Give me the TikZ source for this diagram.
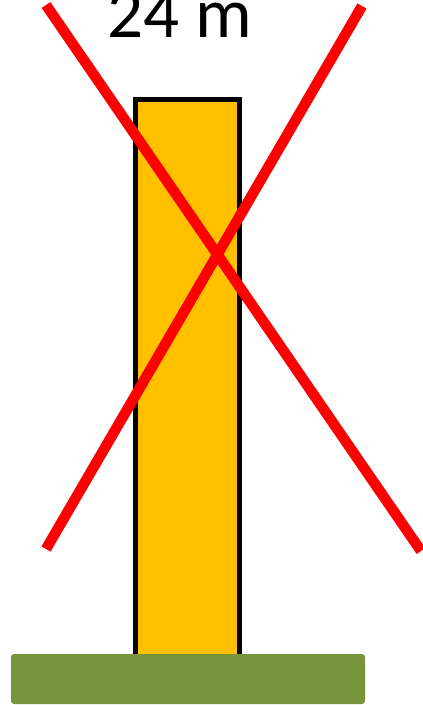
\documentclass[tikz,border=0pt]{standalone}
\usepackage{fontspec}
\setmainfont{Carlito}
\definecolor{tower}{HTML}{FFC000}
\definecolor{grass}{HTML}{77933C}
\definecolor{cross}{HTML}{FF0000}
\tikzset{
  towerbox/.style={draw=black, line width=5pt, fill=tower, outer sep=0pt, inner sep=0pt},
  groundbox/.style={fill=grass, rounded corners=3pt, outer sep=0pt, inner sep=0pt},
  crossline/.style={draw=cross, line width=10.5pt, line cap=butt},
  label/.style={font=\fontsize{71}{76}\selectfont, inner sep=0pt, anchor=base}
}
\begin{document}
\begin{tikzpicture}[x=1pt, y=-1pt]
  \useasboundingbox (0,0) rectangle (423,705);
  \node[towerbox, minimum width=104pt, minimum height=570pt, anchor=north west] (tower) at (135.5,99.5) {};
  \node[groundbox, minimum width=354pt, minimum height=50pt, anchor=north west] (ground) at (11,654) {};
  \coordinate (a1) at (46,5);
  \coordinate (a2) at (421,551);
  \coordinate (b1) at (362,6);
  \coordinate (b2) at (46,549);
  \draw[crossline] (a1) -- (a2);
  \draw[crossline] (b1) -- (b2);
  \node[label] (height) at (180,37) {24 m};
\end{tikzpicture}
\end{document}
